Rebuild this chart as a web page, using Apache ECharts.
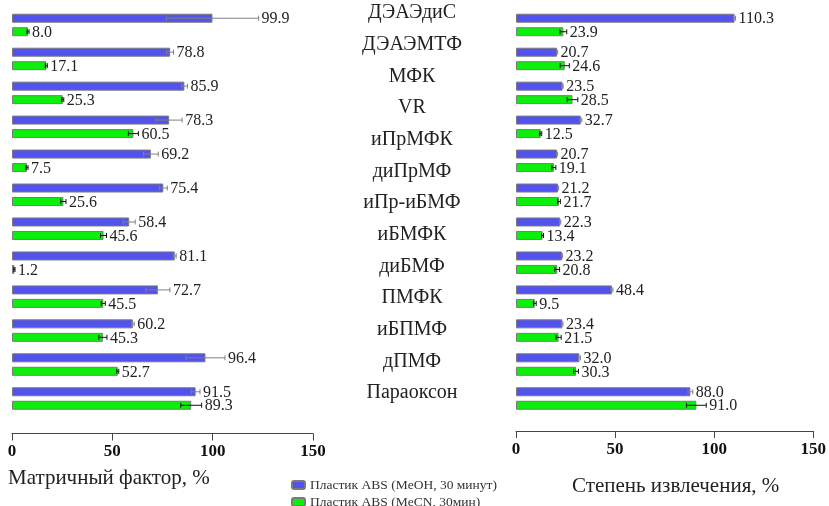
<!DOCTYPE html>
<html>
<head>
<meta charset="utf-8">
<script src="https://cdn.jsdelivr.net/npm/echarts@6/dist/echarts.min.js"></script>
<style>
  html, body { margin: 0; padding: 0; background: #fff; }
  #chart { width: 829px; height: 506px; }
</style>
</head>
<body>
<div id="chart"></div>
<script>
// Compound names shown in the centre column
const compounds = ['ДЭАЭдиС', 'ДЭАЭМТФ', 'МФК', 'VR', 'иПрМФК', 'диПрМФ', 'иПр-иБМФ',
  'иБМФК', 'диБМФ', 'ПМФК', 'иБПМФ', 'дПМФ', 'Параоксон'];
// Bar groups (rows of bars)
const groupIds = ['1', '2', '3', '4', '5', '6', '7', '8', '9', '10', '11', '12'];

const seriesNames = ['Пластик ABS (MeOH, 30 минут)', 'Пластик ABS (MeCN, 30мин)'];

// Matrix factor, %
const matrixMeOH    = [99.9, 78.8, 85.9, 78.3, 69.2, 75.4, 58.4, 81.1, 72.7, 60.2, 96.4, 91.5];
const matrixMeOHErr = [23.0, 1.7, 1.5, 6.5, 3.7, 2.0, 3.0, 0.7, 6.0, 0.7, 9.7, 2.2];
const matrixMeCN    = [8.0, 17.1, 25.3, 60.5, 7.5, 25.6, 45.6, 1.2, 45.5, 45.3, 52.7, 89.3];
const matrixMeCNErr = [0.5, 0.5, 0.5, 2.5, 0.5, 1.3, 1.5, 0.3, 1.0, 2.0, 0.5, 5.2];

// Recovery, %
const recoveryMeOH    = [110.3, 20.7, 23.5, 32.7, 20.7, 21.2, 22.3, 23.2, 48.4, 23.4, 32.0, 88.0];
const recoveryMeOHErr = [0.5, 0.3, 0.3, 0.5, 0.3, 0.3, 0.3, 0.3, 0.5, 0.3, 0.5, 1.2];
const recoveryMeCN    = [23.9, 24.6, 28.5, 12.5, 19.1, 21.7, 13.4, 20.8, 9.5, 21.5, 30.3, 91.0];
const recoveryMeCNErr = [1.7, 2.3, 2.7, 0.5, 1.0, 0.7, 0.5, 1.2, 0.7, 1.3, 1.2, 5.0];

const xTicks = [0, 50, 100, 150];

const SERIF = 'Liberation Serif, Times New Roman, serif';
const BLUE = '#5252EE';
const GREEN = '#0AF00A';
const BAR_W = 9;
const BAR_GAP = 0.5;
const HALF_STEP = (BAR_W + BAR_W * BAR_GAP) / 2;

function barSeries(name, color, values, gridIdx) {
  return {
    type: 'bar', name: name, xAxisIndex: gridIdx, yAxisIndex: gridIdx,
    data: values, barWidth: BAR_W, barGap: (BAR_GAP * 100) + '%',
    itemStyle: { color: color, borderColor: '#7a7a7a', borderWidth: 1 },
    z: 2
  };
}

// Error whiskers plus value label placed past the upper whisker end
function errorSeries(name, values, errs, gridIdx, shift, lineColor) {
  return {
    type: 'custom', name: name, xAxisIndex: gridIdx, yAxisIndex: gridIdx,
    data: values.map((v, i) => [v, errs[i], i]),
    encode: { x: 0, y: 2 },
    z: 5, silent: true,
    renderItem: function (params, api) {
      const v = api.value(0), e = api.value(1), idx = api.value(2);
      const lo = api.coord([v - e, idx]);
      const hi = api.coord([v + e, idx]);
      const y = lo[1] + shift;
      const cap = 2.5;
      const st = { stroke: lineColor, lineWidth: 1 };
      return {
        type: 'group',
        children: [
          { type: 'line', shape: { x1: lo[0], y1: y, x2: hi[0], y2: y }, style: st },
          { type: 'line', shape: { x1: lo[0], y1: y - cap, x2: lo[0], y2: y + cap }, style: st },
          { type: 'line', shape: { x1: hi[0], y1: y - cap, x2: hi[0], y2: y + cap }, style: st },
          { type: 'text', style: {
              x: hi[0] + 3, y: y + 1, text: v.toFixed(1),
              fill: '#222', font: '16px ' + SERIF,
              textAlign: 'left', textVerticalAlign: 'middle' } }
        ]
      };
    }
  };
}

function valueAxis(gridIdx, offset) {
  return {
    type: 'value', gridIndex: gridIdx, min: xTicks[0], max: xTicks[xTicks.length - 1],
    interval: xTicks[1] - xTicks[0], position: 'bottom', offset: offset,
    splitLine: { show: false },
    axisLine: { show: true, lineStyle: { color: '#444', width: 1 } },
    axisTick: { show: true, length: 7, lineStyle: { color: '#444' } },
    axisLabel: { margin: 10, color: '#111', fontFamily: SERIF, fontSize: 17, fontWeight: 'bold' }
  };
}

function groupAxis(gridIdx) {
  return {
    type: 'category', gridIndex: gridIdx, data: groupIds, inverse: true,
    axisLine: { show: false }, axisTick: { show: false }, axisLabel: { show: false }
  };
}

const GRID_TOP = 8;
const GRID_H = 407.5;

const option = {
  backgroundColor: '#fff',
  animation: false,
  grid: [
    { left: 12, top: GRID_TOP, width: 301, height: GRID_H },
    { left: 516, top: GRID_TOP, width: 299, height: GRID_H },
    { left: 480, top: 13, width: 1, height: 380 }
  ],
  xAxis: [
    valueAxis(0, 18),
    valueAxis(1, 15.5),
    { type: 'value', gridIndex: 2, min: 0, max: 1, show: false }
  ],
  yAxis: [
    groupAxis(0),
    groupAxis(1),
    {
      type: 'category', gridIndex: 2, data: compounds, inverse: true, boundaryGap: false,
      axisLine: { show: false }, axisTick: { show: false },
      axisLabel: { margin: 68, align: 'center', color: '#222', fontFamily: SERIF, fontSize: 20 }
    }
  ],
  legend: {
    orient: 'vertical', left: 286, top: 473, height: 80, itemWidth: 13, itemHeight: 8, itemGap: 3,
    data: seriesNames,
    textStyle: { fontFamily: SERIF, fontSize: 13.5, color: '#333' }
  },
  graphic: [
    { type: 'text', left: 8, top: 468, style: { text: 'Матричный фактор, %', font: '21px ' + SERIF, fill: '#222' } },
    { type: 'text', left: 572, top: 476, style: { text: 'Степень извлечения, %', font: '21px ' + SERIF, fill: '#222' } }
  ],
  series: [
    barSeries(seriesNames[0], BLUE, matrixMeOH, 0),
    barSeries(seriesNames[1], GREEN, matrixMeCN, 0),
    barSeries(seriesNames[0], BLUE, recoveryMeOH, 1),
    barSeries(seriesNames[1], GREEN, recoveryMeCN, 1),
    errorSeries(seriesNames[0], matrixMeOH, matrixMeOHErr, 0, -HALF_STEP, '#808080'),
    errorSeries(seriesNames[1], matrixMeCN, matrixMeCNErr, 0, HALF_STEP, '#111'),
    errorSeries(seriesNames[0], recoveryMeOH, recoveryMeOHErr, 1, -HALF_STEP, '#808080'),
    errorSeries(seriesNames[1], recoveryMeCN, recoveryMeCNErr, 1, HALF_STEP, '#111')
  ]
};

const chart = echarts.init(document.getElementById('chart'), null, { renderer: 'canvas' });
chart.setOption(option);
</script>
</body>
</html>
